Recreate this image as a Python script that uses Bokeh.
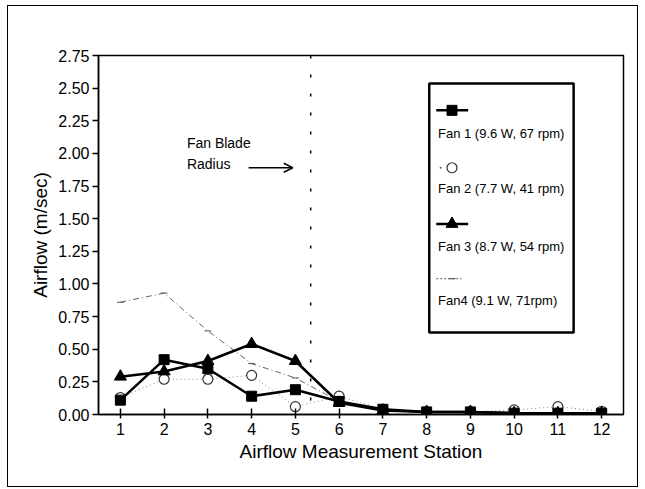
from bokeh.plotting import figure
from bokeh.models import (FixedTicker, NumeralTickFormatter, Span, Arrow, OpenHead,
                          Label, BoxAnnotation, Range1d, InlineStyleSheet)
from bokeh.embed import file_html
from bokeh.resources import INLINE

# ---- data ----
stations = [1, 2, 3, 4, 5, 6, 7, 8, 9, 10, 11, 12]
fan1 = [0.11, 0.42, 0.35, 0.14, 0.19, 0.10, 0.04, 0.02, 0.02, 0.01, 0.01, 0.01]
fan2 = [0.13, 0.27, 0.27, 0.30, 0.06, 0.14, 0.04, 0.02, 0.02, 0.035, 0.06, 0.025]
fan3 = [0.29, 0.33, 0.41, 0.54, 0.41, 0.09, 0.03, 0.02, 0.02, 0.01, 0.01, 0.01]
fan4 = [0.86, 0.93, 0.64, 0.39, 0.28, 0.10, 0.03, 0.02, 0.01, 0.01, 0.01, 0.01]
labels = ["Fan 1 (9.6 W, 67 rpm)", "Fan 2 (7.7 W, 41 rpm)",
          "Fan 3 (8.7 W, 54 rpm)", "Fan4  (9.1 W, 71rpm)"]
y_ticks = [0, 0.25, 0.5, 0.75, 1.0, 1.25, 1.5, 1.75, 2.0, 2.25, 2.5, 2.75]
blade_radius = 5.35

FONT = "Liberation Sans"
W, H = 629, 480

p = figure(width=W, height=H, output_backend="svg", toolbar_location=None,
           x_range=Range1d(0.5, 12.5), y_range=Range1d(0, 2.75),
           min_border_left=90, min_border_right=14, min_border_top=49, min_border_bottom=72)
p.margin = (6, 0, 0, 8)
# outer border around the whole chart
p.stylesheets = [InlineStyleSheet(css=":host { outline: 1.5px solid black; outline-offset: 0px; }")]
p.xgrid.visible = False
p.ygrid.visible = False
p.outline_line_color = "black"
p.outline_line_width = 1.5
p.background_fill_color = "white"
p.border_fill_color = "white"

# axes
p.xaxis.ticker = FixedTicker(ticks=stations)
p.yaxis.ticker = FixedTicker(ticks=y_ticks)
p.yaxis.formatter = NumeralTickFormatter(format="0.00")
for ax in (p.xaxis[0], p.yaxis[0]):
    ax.axis_line_width = 1.5
    ax.axis_line_color = "black"
    ax.major_tick_line_width = 1.5
    ax.major_tick_line_color = "black"
    ax.minor_tick_line_color = None
    ax.major_label_text_font = FONT
    ax.major_label_text_font_size = "16px"
    ax.major_label_text_color = "black"
    ax.axis_label_text_font = FONT
    ax.axis_label_text_font_size = "19px"
    ax.axis_label_text_font_style = "normal"
    ax.axis_label_text_color = "black"
p.xaxis.major_tick_in = 6
p.xaxis.major_tick_out = 4
p.yaxis.major_tick_in = 0
p.yaxis.major_tick_out = 6
p.xaxis.major_label_standoff = 4
p.yaxis.major_label_standoff = 3
p.xaxis.axis_label = "Airflow Measurement Station"
p.yaxis.axis_label = "Airflow (m/sec)"
p.xaxis.axis_label_standoff = 3
p.yaxis.axis_label_standoff = 4

# blade radius marker
p.add_layout(Span(location=blade_radius, dimension="height", line_color="black",
                  line_width=1.5, line_dash="3 16"))

# series
p.line(stations, fan4, line_color="#666666", line_width=1, line_dash="6 3 1 3")
p.scatter(stations, fan4, marker="dash", size=7, line_color="#555555", line_width=1)

p.line(stations, fan2, line_color="#888888", line_width=1, line_dash="1 3")
p.scatter(stations, fan2, marker="circle", size=10, fill_color="white",
          line_color="#333333", line_width=1.2)

p.line(stations, fan1, line_color="black", line_width=2.5)
p.scatter(stations, fan1, marker="square", size=10, fill_color="black", line_color="black")

p.line(stations, fan3, line_color="black", line_width=2.5)
p.scatter(stations, fan3, marker="triangle", size=12, fill_color="black", line_color="black")

# annotation text and arrow
p.add_layout(Label(x=2.52, y=2.077, text="Fan Blade", text_font=FONT,
                   text_font_size="14px", text_baseline="middle", text_color="black"))
p.add_layout(Label(x=2.52, y=1.92, text="Radius", text_font=FONT,
                   text_font_size="14px", text_baseline="middle", text_color="black"))
p.add_layout(Arrow(x_start=3.93, y_start=1.89, x_end=4.94, y_end=1.89,
                   line_color="black", line_width=1.5,
                   end=OpenHead(size=9, line_color="black", line_width=1.5)))

# legend box (custom: glyph above label)
p.add_layout(BoxAnnotation(left=8.06, right=11.36, bottom=0.628, top=2.536,
                           fill_color="white", fill_alpha=1.0,
                           line_color="black", line_alpha=1.0, line_width=2.5,
                           level="annotation"))
gx0, gx1, gm, tx = 8.22, 8.95, 8.58, 8.26
glyph_y = [2.33, 1.89, 1.46, 1.04]
label_y = [2.15, 1.73, 1.29, 0.87]

lg = p.line([gx0, gx1], [glyph_y[0]] * 2, line_color="black", line_width=2.5)
lg.level = "overlay"
s = p.scatter([gm], [glyph_y[0]], marker="square", size=10, fill_color="black", line_color="black")
s.level = "overlay"
s = p.scatter([gx0 + 0.1], [glyph_y[1]], marker="circle", size=2, fill_color="#555555", line_color=None)
s.level = "overlay"
s = p.scatter([gm], [glyph_y[1]], marker="circle", size=10, fill_color="white",
              line_color="#333333", line_width=1.2)
s.level = "overlay"
lg = p.line([gx0, gx1], [glyph_y[2]] * 2, line_color="black", line_width=2.5)
lg.level = "overlay"
s = p.scatter([gm], [glyph_y[2]], marker="triangle", size=12, fill_color="black", line_color="black")
s.level = "overlay"
lg = p.line([gx0, gx1 - 0.15], [glyph_y[3]] * 2, line_color="#555555", line_width=1, line_dash="2 2")
lg.level = "overlay"
s = p.scatter([gm], [glyph_y[3]], marker="dash", size=7, line_color="#444444", line_width=1)
s.level = "overlay"

for lab, ly in zip(labels, label_y):
    lbl = Label(x=tx, y=ly, text=lab, text_font=FONT, text_font_size="13px",
                text_baseline="middle", text_color="black")
    lbl.level = "overlay"
    p.add_layout(lbl)

open("out.html", "w").write(file_html(p, INLINE))
